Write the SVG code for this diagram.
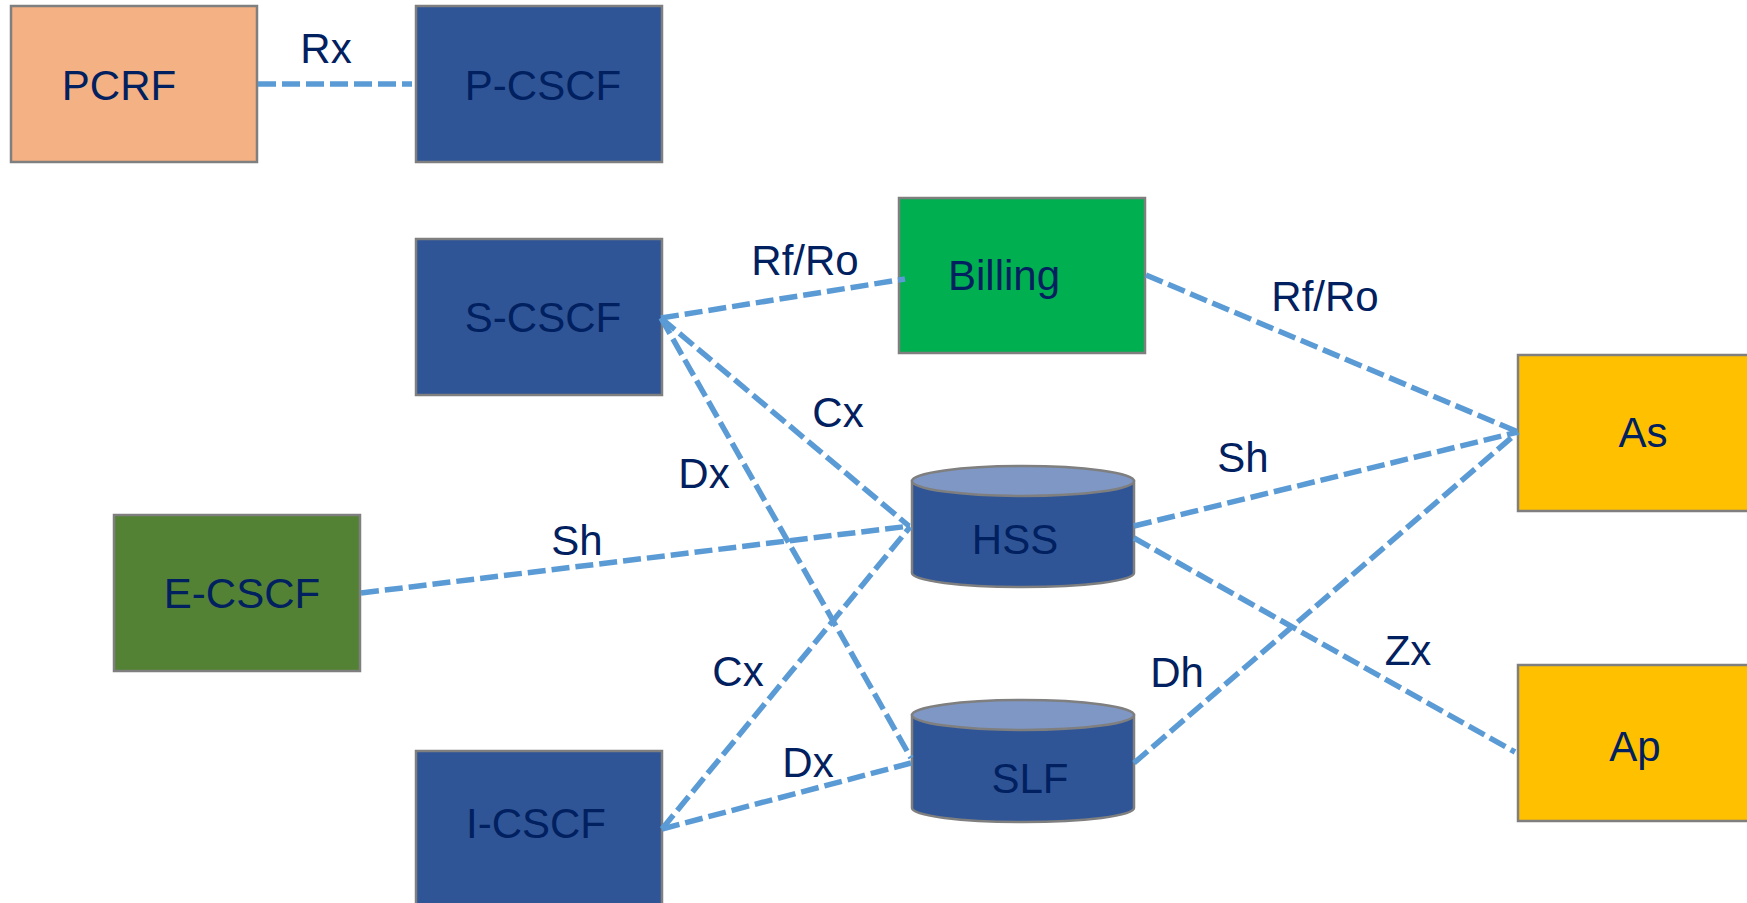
<svg xmlns="http://www.w3.org/2000/svg" width="1747" height="903" viewBox="0 0 1747 903">
  <style>
    .box { stroke: #7f7f7f; stroke-width: 2.5; }
    .blue { fill: #2f5597; }
    .cyl-top { fill: #7f97c4; stroke: #7f7f7f; stroke-width: 2.5; }
    .cyl-body { fill: #2f5597; stroke: #7f7f7f; stroke-width: 2.5; }
    .lbl { font-family: "Liberation Sans", Arial, sans-serif; font-size: 42px; fill: #002060; text-anchor: middle; }
    .link { stroke: #5b9bd5; stroke-width: 5.5; stroke-dasharray: 18 6; fill: none; }
  </style>
  <rect width="1747" height="903" fill="#ffffff"/>

  <!-- nodes -->
  <g id="pcrf">
    <rect class="box" x="11" y="6" width="246" height="156" fill="#f4b183"/>
    <text class="lbl" x="119" y="100">PCRF</text>
  </g>
  <g id="p-cscf">
    <rect class="box blue" x="416" y="6" width="246" height="156"/>
    <text class="lbl" x="543" y="100">P-CSCF</text>
  </g>
  <g id="s-cscf">
    <rect class="box blue" x="416" y="239" width="246" height="156"/>
    <text class="lbl" x="543" y="332">S-CSCF</text>
  </g>
  <g id="billing">
    <rect class="box" x="899" y="198" width="246" height="155" fill="#00b050"/>
    <text class="lbl" x="1004" y="290">Billing</text>
  </g>
  <g id="e-cscf">
    <rect class="box" x="114" y="515" width="246" height="156" fill="#548235"/>
    <text class="lbl" x="242" y="608">E-CSCF</text>
  </g>
  <g id="i-cscf">
    <rect class="box blue" x="416" y="751" width="246" height="160"/>
    <text class="lbl" x="536" y="838">I-CSCF</text>
  </g>
  <g id="hss">
    <path class="cyl-body" d="M912,481 L912,573 A111,14 0 0 0 1134,573 L1134,481 Z"/>
    <ellipse class="cyl-top" cx="1023" cy="481" rx="111" ry="15"/>
    <text class="lbl" x="1015" y="554">HSS</text>
  </g>
  <g id="slf">
    <path class="cyl-body" d="M912,715 L912,808 A111,14 0 0 0 1134,808 L1134,715 Z"/>
    <ellipse class="cyl-top" cx="1023" cy="715" rx="111" ry="15"/>
    <text class="lbl" x="1030" y="793">SLF</text>
  </g>
  <g id="as">
    <rect class="box" x="1518" y="355" width="250" height="156" fill="#ffc000"/>
    <text class="lbl" x="1643" y="447">As</text>
  </g>
  <g id="ap">
    <rect class="box" x="1518" y="665" width="250" height="156" fill="#ffc000"/>
    <text class="lbl" x="1635" y="761">Ap</text>
  </g>

  <!-- connectors -->
  <g id="connectors">
    <line class="link" x1="258" y1="84" x2="412" y2="84"/>
    <line class="link" x1="661" y1="318" x2="905" y2="279"/>
    <line class="link" x1="661" y1="318" x2="909" y2="526"/>
    <line class="link" x1="661" y1="318" x2="911" y2="758"/>
    <line class="link" x1="361" y1="593" x2="910" y2="526"/>
    <line class="link" x1="662" y1="829" x2="910" y2="527"/>
    <line class="link" x1="662" y1="829" x2="911" y2="763"/>
    <line class="link" x1="1146" y1="275" x2="1518" y2="432"/>
    <line class="link" x1="1134" y1="526" x2="1518" y2="432"/>
    <line class="link" x1="1134" y1="763" x2="1518" y2="432"/>
    <line class="link" x1="1134" y1="538" x2="1515" y2="752"/>
  </g>

  <!-- interface labels -->
  <g id="labels">
    <text class="lbl" x="326" y="63">Rx</text>
    <text class="lbl" x="805" y="275">Rf/Ro</text>
    <text class="lbl" x="838" y="427">Cx</text>
    <text class="lbl" x="704" y="488">Dx</text>
    <text class="lbl" x="577" y="555">Sh</text>
    <text class="lbl" x="1325" y="311">Rf/Ro</text>
    <text class="lbl" x="1243" y="472">Sh</text>
    <text class="lbl" x="1408" y="665">Zx</text>
    <text class="lbl" x="1177" y="687">Dh</text>
    <text class="lbl" x="738" y="686">Cx</text>
    <text class="lbl" x="808" y="777">Dx</text>
  </g>
</svg>
